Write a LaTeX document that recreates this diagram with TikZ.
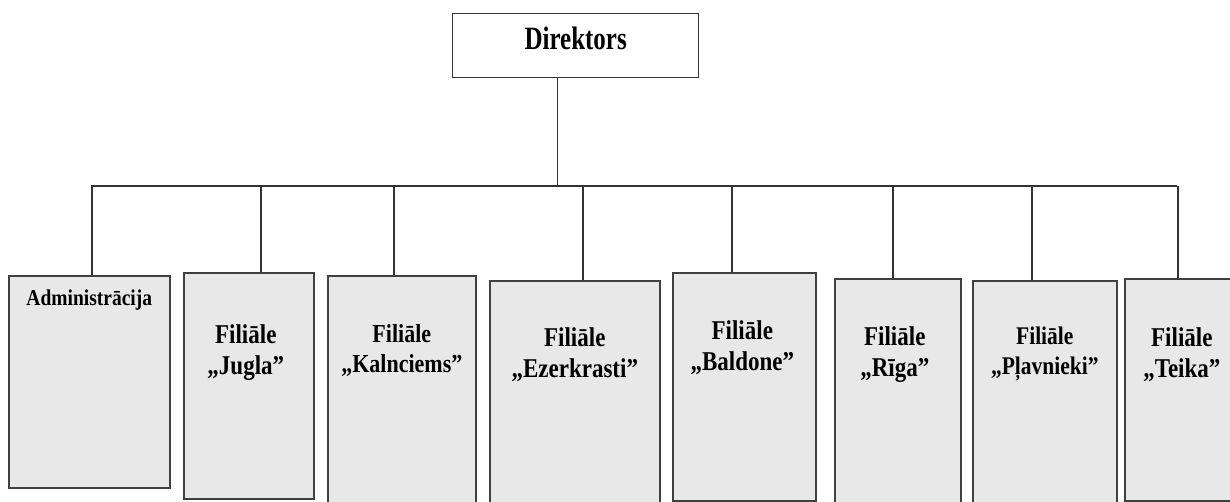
\documentclass[tikz,border=0pt]{standalone}
\usepackage{fontspec}
\setmainfont{Liberation Serif}
\usepackage{tikz}
\usetikzlibrary{positioning, calc}

% taller lettering, as in the scan
\newcommand{\tallrows}[2][1.18]{\scalebox{1}[#1]{\begin{tabular}{@{}c@{}}#2\end{tabular}}}

\begin{document}
\begin{tikzpicture}[x=1pt, y=-1pt,
    head/.style={rectangle, draw=black!80, line width=1.3pt, fill=white, anchor=north west, minimum width=246pt, minimum height=64pt, text height=20pt, text depth=10pt, font=\fontsize{25}{28}\selectfont\bfseries},
    branch/.style={rectangle, draw=black!75, line width=1.6pt, fill=black!9, anchor=north west},
    boxtitle/.style={anchor=north, inner sep=0pt, align=center, font=\fontsize{23}{26}\selectfont\bfseries},
    line/.style={draw, black!80, line width=1.4pt}]

    \useasboundingbox (0,0) rectangle (1230,502);
    \clip (0,0) rectangle (1230,502);

    % Top
    \node [head] (dir) at (452,13) {\tallrows[1.3]{Direktors}};

    % Branches
    \node [branch, minimum width=161pt, minimum height=212pt, label={[boxtitle, yshift=-12, font=\fontsize{19.5}{22}\selectfont\bfseries]north:\tallrows[1.16]{Administrācija}}] (admin) at (8,275) {};
    \node [branch, minimum width=130pt, minimum height=226pt, label={[boxtitle, yshift=-50, xshift=-3]north:\tallrows{Filiāle\\„Jugla”}}] (jugla) at (183,272) {};
    \node [branch, minimum width=148pt, minimum height=232pt, label={[boxtitle, yshift=-47, font=\fontsize{22}{25}\selectfont\bfseries]north:\tallrows{Filiāle\\„Kalnciems”}}] (kaln) at (327,275) {};
    \node [branch, minimum width=170pt, minimum height=227pt, label={[boxtitle, yshift=-45]north:\tallrows{Filiāle\\„Ezerkrasti”}}] (ezer) at (489,280) {};
    \node [branch, minimum width=143pt, minimum height=228pt, label={[boxtitle, yshift=-46, xshift=-2]north:\tallrows{Filiāle\\„Baldone”}}] (bald) at (672,272) {};
    \node [branch, minimum width=126pt, minimum height=229pt, label={[boxtitle, yshift=-46, xshift=-3]north:\tallrows{Filiāle\\„Rīga”}}] (riga) at (834,278) {};
    \node [branch, minimum width=144pt, minimum height=227pt, label={[boxtitle, yshift=-44, font=\fontsize{21.5}{25}\selectfont\bfseries]north:\tallrows{Filiāle\\„Pļavnieki”}}] (plav) at (972,280) {};
    \node [branch, minimum width=108pt, minimum height=222pt, label={[boxtitle, yshift=-47, xshift=3]north:\tallrows{Filiāle\\„Teika”}}] (teika) at (1124,278) {};

    % Bus
    \coordinate (busL) at (91,186);
    \coordinate (busR) at (1177,186);
    \path [line] (busL) -- (busR);
    \path [line] ([xshift=-18]dir.south) -- ([xshift=-18]dir.south |- busL);

    % Stems
    \path [line] ([xshift=2.5]admin.north) -- ([xshift=2.5]admin.north |- busL);
    \path [line] ([xshift=12]jugla.north) -- ([xshift=12]jugla.north |- busL);
    \path [line] ([xshift=-8]kaln.north) -- ([xshift=-8]kaln.north |- busL);
    \path [line] ([xshift=8]ezer.north) -- ([xshift=8]ezer.north |- busL);
    \path [line] ([xshift=-12.5]bald.north) -- ([xshift=-12.5]bald.north |- busL);
    \path [line] ([xshift=-5]riga.north) -- ([xshift=-5]riga.north |- busL);
    \path [line] ([xshift=-13]plav.north) -- ([xshift=-13]plav.north |- busL);
    \path [line] ([xshift=-1]teika.north) -- ([xshift=-1]teika.north |- busL);

\end{tikzpicture}
\end{document}
